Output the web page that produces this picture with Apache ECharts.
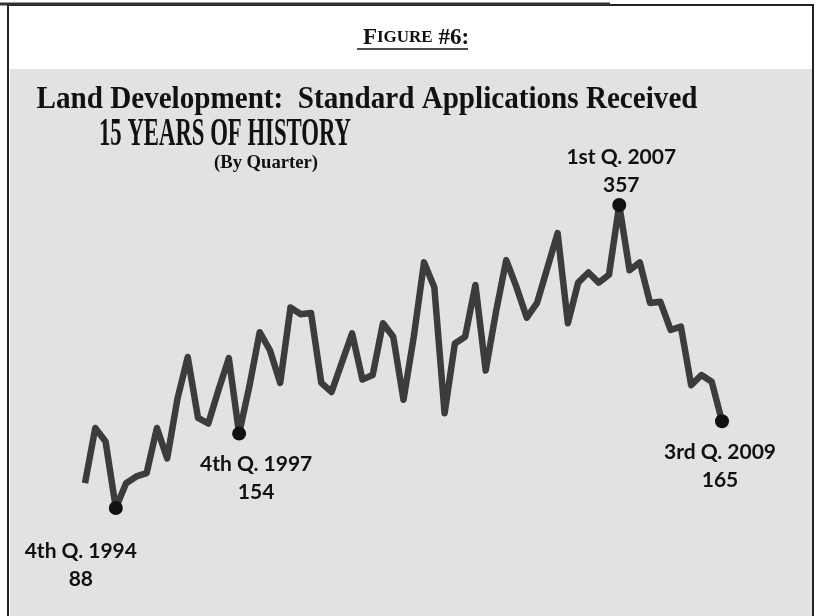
<!DOCTYPE html>
<html>
<head>
<meta charset="utf-8">
<script src="https://cdn.jsdelivr.net/npm/echarts@6/dist/echarts.min.js"></script>
<style>
html,body{margin:0;padding:0;background:#fff;}
#chart{width:829px;height:616px;}
</style>
</head>
<body>
<div id="chart"></div>
<script>
// Quarterly standard applications received, 1st Q. 1994 .. 3rd Q. 2009
const quarters = [];
for (let y = 1994; y <= 2009; y++) {
  for (let q = 1; q <= 4; q++) {
    if (y === 2009 && q > 3) break;
    quarters.push(y + ' Q' + q);
  }
}
const applications = [
  110, 159, 147, 88, 110, 116, 119, 159, 132, 185,
  222, 168, 163, 193, 221, 154, 196, 244, 228, 199,
  266, 260, 261, 199, 191, 217, 243, 202, 206, 252,
  240, 184, 240, 306, 284, 172, 234, 240, 286, 210,
  262, 308, 284, 257, 270, 301, 332, 252, 288, 297,
  288, 295, 357, 299, 306, 270, 271, 246, 249, 197,
  206, 200, 165
];
const markedIndex = [3, 15, 52, 62];
const markedNames = ['4th Q. 1994', '4th Q. 1997', '1st Q. 2007', '3rd Q. 2009'];

const headerText = 'Land Development:  Standard Applications Received';
const titleText = '15 YEARS OF HISTORY';
const subText = '(By Quarter)';

// label placement per marked point (style only)
const labelPlace = [
  {position: 'bottom', offset: [-35, 17]},
  {position: 'bottom', offset: [17, 5]},
  {position: 'top', offset: [2, 6]},
  {position: 'bottom', offset: [-2, 5]}
];

const measureCtx = document.createElement('canvas').getContext('2d');
function fitScale(text, font, target) {
  measureCtx.font = font;
  const w = measureCtx.measureText(text).width;
  return w > 0 ? target / w : 1;
}

const serif = '"Liberation Serif", "DejaVu Serif", serif';
const fHeader = 'bold 32px ' + serif;
const fTitle = 'bold 39px ' + serif;
const fSub = 'bold 18px ' + serif;

const seriesData = applications.map((v, i) => {
  const k = markedIndex.indexOf(i);
  if (k < 0) return {value: v, symbol: 'none'};
  return {
    value: v,
    symbol: 'circle',
    symbolSize: 14,
    itemStyle: {color: '#111'},
    label: {
      show: true,
      position: labelPlace[k].position,
      offset: labelPlace[k].offset,
      formatter: markedNames[k] + '\n' + v,
      fontFamily: 'Lato, "Liberation Sans", sans-serif',
      fontWeight: 'bold',
      fontSize: 21,
      lineHeight: 28,
      color: '#111',
      align: 'center'
    }
  };
});

const chart = echarts.init(document.getElementById('chart'), null, {renderer: 'canvas'});
chart.setOption({
  animation: false,
  backgroundColor: '#ffffff',
  graphic: [
    {type: 'rect', z: -10, silent: true, shape: {x: 10, y: 69, width: 802, height: 560}, style: {fill: '#e2e2e2'}},
    {type: 'rect', z: -9, silent: true, shape: {x: 8, y: 5, width: 805, height: 640}, style: {fill: 'none', stroke: '#222', lineWidth: 2}},
    {type: 'line', z: -9, silent: true, shape: {x1: 0, y1: 4, x2: 610, y2: 4}, style: {stroke: '#333', lineWidth: 3}},
    {type: 'text', silent: true, x: 416, y: 38,
      style: {
        text: '{a|F}{b|IGURE}{a| #6}{a|:}',
        textAlign: 'center', textVerticalAlign: 'middle',
        rich: {
          a: {font: 'bold 23px ' + serif, fill: '#111'},
          b: {font: 'bold 17px ' + serif, fill: '#111'}
        }
      }},
    {type: 'line', silent: true, shape: {x1: 357, y1: 49, x2: 468, y2: 49}, style: {stroke: '#111', lineWidth: 1.5}},
    {type: 'text', silent: true, x: 367, y: 100, scaleX: fitScale(headerText, fHeader, 661),
      style: {text: headerText, font: fHeader, fill: '#111', textAlign: 'center', textVerticalAlign: 'middle'}},
    {type: 'text', silent: true, x: 225, y: 135, scaleX: fitScale(titleText, fTitle, 252),
      style: {text: titleText, font: fTitle, fill: '#111', textAlign: 'center', textVerticalAlign: 'middle'}},
    {type: 'text', silent: true, x: 266, y: 163, scaleX: fitScale(subText, fSub, 104),
      style: {text: subText, font: fSub, fill: '#111', textAlign: 'center', textVerticalAlign: 'middle'}}
  ],
  grid: {left: 85, right: 107, top: 156.5, bottom: 8.9, containLabel: false},
  xAxis: {
    type: 'category',
    data: quarters,
    boundaryGap: false,
    show: false
  },
  yAxis: {
    type: 'value',
    min: 0,
    max: 400,
    show: false
  },
  series: [{
    type: 'line',
    data: seriesData,
    showAllSymbol: true,
    lineStyle: {color: '#3c3c3c', width: 6.5, join: 'round'},
    itemStyle: {color: '#111'},
    z: 5
  }]
});
</script>
</body>
</html>
